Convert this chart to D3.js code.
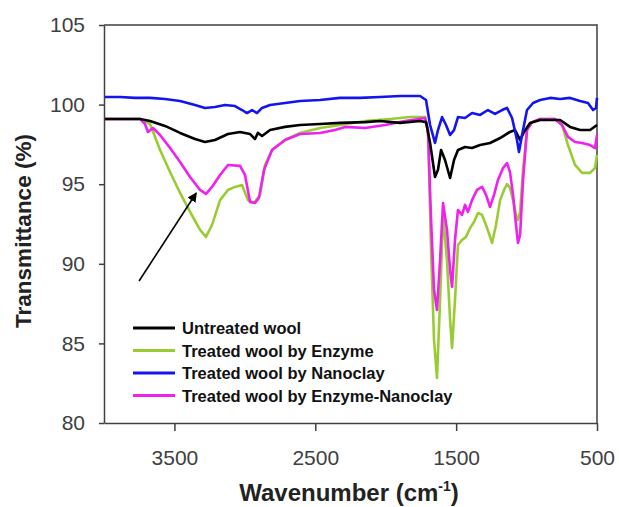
<!DOCTYPE html>
<meta charset="utf-8">
<style>
    body { margin: 0; background: #fff; }
    text { font-family: "Liberation Sans", Arial, sans-serif; }
    .axis path, .axis line { stroke: #404040; stroke-width: 1.5px; }
    .axis text { font-size: 21px; fill: #404040; }
    .curve { fill: none; stroke-width: 2.6px; stroke-linejoin: round; }
    .legend text { font-size: 16.5px; font-weight: bold; fill: #111; }
</style>
<svg width="619" height="507"></svg>
<script src="https://d3js.org/d3.v7.min.js"></script>
<script>

    // [wavenumber cm-1, transmittance %]
    var untreated = [
        [4000, 99.1], [3744, 99.1], [3673, 98.97], [3567, 98.66], [3460, 98.22], [3354, 97.84],
        [3283, 97.65], [3212, 97.78], [3120, 98.15], [3034, 98.28], [2963, 98.15], [2928, 97.84],
        [2907, 98.22], [2878, 98.03], [2821, 98.4], [2715, 98.6], [2608, 98.72], [2466, 98.78],
        [2324, 98.85], [2147, 98.9], [2040, 98.97], [1898, 98.85], [1756, 98.97], [1714, 98.9],
        [1685, 97.59], [1650, 95.45], [1629, 95.9], [1607, 97.15], [1579, 96.52], [1543, 95.39],
        [1515, 96.52], [1487, 97.15], [1437, 97.34], [1387, 97.27], [1330, 97.46], [1259, 97.59],
        [1188, 97.9], [1118, 98.28], [1082, 98.4], [1046, 97.78], [1018, 98.28], [975, 98.85],
        [904, 99.03], [762, 99.03], [691, 98.6], [620, 98.4], [549, 98.4], [500, 98.72]
    ];

    var enzyme = [
        [4000, 99.1], [3744, 99.1], [3673, 98.78], [3602, 97.15], [3531, 95.77], [3460, 94.45],
        [3389, 93.26], [3318, 92.13], [3276, 91.69], [3233, 92.44], [3176, 94.0], [3120, 94.64],
        [3070, 94.83], [3020, 94.95], [2978, 94.0], [2935, 93.82], [2892, 94.33], [2857, 96.21],
        [2807, 97.15], [2715, 97.78], [2608, 98.22], [2466, 98.53], [2324, 98.72], [2147, 98.97],
        [1969, 99.1], [1827, 99.22], [1721, 99.22], [1700, 98.4], [1678, 90.87], [1657, 85.22],
        [1636, 82.83], [1614, 87.73], [1593, 93.07], [1565, 90.24], [1543, 86.47], [1529, 84.72],
        [1508, 87.73], [1487, 91.18], [1458, 91.5], [1430, 91.69], [1401, 92.25], [1373, 92.63],
        [1345, 93.19], [1316, 93.07], [1288, 92.44], [1259, 91.69], [1245, 91.31], [1217, 92.44],
        [1188, 94.0], [1160, 94.64], [1139, 95.01], [1118, 94.77], [1096, 94.0], [1075, 93.07],
        [1061, 92.75], [1046, 93.26], [1025, 95.9], [997, 98.4], [961, 98.9], [904, 99.1],
        [798, 99.1], [748, 98.72], [706, 97.46], [656, 96.21], [606, 95.71], [549, 95.71],
        [514, 96.02], [500, 96.84]
    ];

    var nanoclay = [
        [4000, 100.48], [3886, 100.48], [3780, 100.42], [3673, 100.42], [3567, 100.35], [3460, 100.23],
        [3354, 99.98], [3283, 99.79], [3212, 99.85], [3141, 99.98], [3070, 99.91], [3020, 99.66],
        [2985, 99.47], [2949, 99.66], [2914, 99.47], [2878, 99.79], [2821, 99.98], [2715, 100.1],
        [2608, 100.23], [2466, 100.29], [2324, 100.42], [2182, 100.42], [2040, 100.48], [1898, 100.54],
        [1756, 100.54], [1714, 100.29], [1685, 98.72], [1650, 97.59], [1629, 98.4], [1600, 99.22],
        [1572, 98.72], [1543, 98.09], [1515, 98.4], [1487, 99.22], [1437, 99.16], [1387, 99.47],
        [1330, 99.35], [1274, 99.66], [1224, 99.41], [1174, 99.66], [1139, 99.79], [1103, 99.16],
        [1068, 97.78], [1054, 97.02], [1032, 98.09], [997, 99.66], [954, 100.1], [904, 100.29],
        [833, 100.42], [762, 100.35], [691, 100.42], [620, 100.23], [564, 100.1], [528, 99.66],
        [507, 99.79], [500, 100.42]
    ];

    var enzymeNanoclay = [
        [4000, 99.1], [3744, 99.1], [3709, 98.78], [3688, 98.28], [3652, 98.53], [3602, 98.09],
        [3531, 97.27], [3460, 96.4], [3389, 95.45], [3318, 94.64], [3276, 94.39], [3233, 94.83],
        [3176, 95.58], [3120, 96.21], [3034, 96.15], [2999, 95.58], [2963, 93.88], [2928, 93.82],
        [2900, 94.14], [2864, 95.9], [2807, 97.15], [2715, 97.78], [2608, 98.15], [2466, 98.22],
        [2360, 98.4], [2289, 98.6], [2147, 98.53], [2005, 98.72], [1863, 98.97], [1721, 99.16],
        [1700, 98.4], [1678, 92.75], [1657, 88.36], [1636, 87.1], [1614, 90.24], [1593, 93.82],
        [1565, 92.13], [1543, 89.61], [1529, 88.55], [1508, 91.5], [1487, 93.38], [1458, 93.07],
        [1437, 93.7], [1416, 93.26], [1387, 94.0], [1352, 94.64], [1316, 94.83], [1288, 94.33],
        [1259, 93.57], [1231, 94.33], [1203, 95.27], [1167, 96.02], [1139, 96.33], [1118, 95.77],
        [1096, 94.33], [1075, 92.44], [1061, 91.31], [1046, 91.81], [1025, 95.27], [997, 98.4],
        [961, 98.9], [904, 99.1], [798, 99.1], [748, 98.72], [706, 97.97], [656, 97.65],
        [606, 97.59], [549, 97.46], [514, 97.27], [500, 98.09]
    ];

    var seriesNames = ["Untreated wool", "Treated wool by Enzyme", "Treated wool by Nanoclay", "Treated wool by Enzyme-Nanoclay"];
    var seriesColors = ["#000000", "#99cc33", "#1414f0", "#f020f0"];
    var xTicks = [3500, 2500, 1500, 500];
    var yTicks = [80, 85, 90, 95, 100, 105];
    // arrow annotation: from [wn, T] to [wn, T]
    var arrowFrom = [3751, 88.92];
    var arrowTo = [3345, 94.45];

    var svg = d3.select("svg");

    var x = d3.scaleLinear().domain([4000, 500]).range([104, 597]);
    var y = d3.scaleLinear().domain([80, 105]).range([423, 25]);

    svg.append("defs").append("marker")
        .attr("id", "head")
        .attr("viewBox", "0 0 10 10")
        .attr("refX", 9).attr("refY", 5)
        .attr("markerWidth", 6).attr("markerHeight", 6)
        .attr("markerUnits", "strokeWidth")
        .attr("orient", "auto")
        .append("path")
        .attr("d", "M0,0 L10,5 L0,10 z")
        .attr("fill", "#000");

    // frame top + right
    svg.append("path")
        .attr("d", "M" + x.range()[0] + "," + y.range()[1] + "H" + x.range()[1] + "V" + y.range()[0])
        .attr("fill", "none")
        .attr("stroke", "#404040")
        .attr("stroke-width", 1.5);

    var line = d3.line()
        .x(function (d) { return x(d[0]); })
        .y(function (d) { return y(d[1]); });

    // draw order: green, pink, black, blue
    var data = [untreated, enzyme, nanoclay, enzymeNanoclay];
    [1, 3, 0, 2].forEach(function (i) {
        svg.append("path")
            .datum(data[i])
            .attr("class", "curve")
            .attr("stroke", seriesColors[i])
            .attr("d", line);
    });

    svg.append("g")
        .attr("class", "axis")
        .attr("transform", "translate(" + x.range()[0] + ",0)")
        .call(d3.axisLeft(y).tickValues(yTicks).tickSize(5).tickSizeOuter(0).tickPadding(14));

    svg.append("g")
        .attr("class", "axis")
        .attr("transform", "translate(0," + y.range()[0] + ")")
        .call(d3.axisBottom(x).tickValues(xTicks).tickFormat(d3.format("d"))
            .tickSize(8).tickSizeOuter(0).tickPadding(19));

    svg.append("text")
        .attr("transform", "translate(31,231) rotate(-90)")
        .attr("text-anchor", "middle")
        .attr("font-size", "22.5px")
        .attr("font-weight", "bold")
        .attr("fill", "#222")
        .text("Transmittance (%)");

    var xl = svg.append("text")
        .attr("x", 349)
        .attr("y", 501)
        .attr("text-anchor", "middle")
        .attr("font-size", "24px")
        .attr("font-weight", "bold")
        .attr("fill", "#222");
    xl.append("tspan").text("Wavenumber (cm");
    xl.append("tspan").attr("font-size", "14px").attr("dy", -10).text("-1");
    xl.append("tspan").attr("dy", 10).text(")");

    svg.append("line")
        .attr("x1", x(arrowFrom[0])).attr("y1", y(arrowFrom[1]))
        .attr("x2", x(arrowTo[0])).attr("y2", y(arrowTo[1]))
        .attr("stroke", "#000")
        .attr("stroke-width", 1.6)
        .attr("marker-end", "url(#head)");

    var legend = svg.append("g").attr("class", "legend");
    seriesNames.forEach(function (name, i) {
        var ly = 328 + i * 22.5;
        legend.append("line")
            .attr("x1", 133).attr("x2", 175)
            .attr("y1", ly).attr("y2", ly)
            .attr("stroke", seriesColors[i])
            .attr("stroke-width", 3);
        legend.append("text")
            .attr("x", 182)
            .attr("y", ly + 6)
            .text(name);
    });

</script>
